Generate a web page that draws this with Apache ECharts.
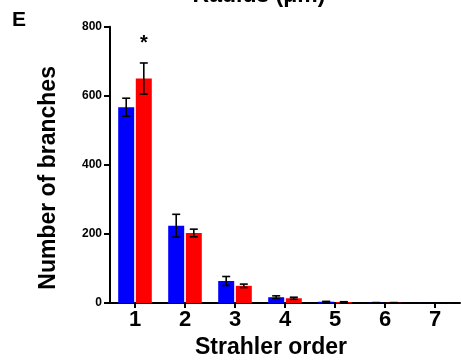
<!DOCTYPE html>
<html>
<head>
<meta charset="utf-8">
<script src="https://cdn.jsdelivr.net/npm/echarts@6/dist/echarts.min.js"></script>
<style>
html,body{margin:0;padding:0;background:#fff;}
#chart{width:461px;height:364px;}
</style>
</head>
<body>
<div id="chart"></div>
<script>
var categories = ['1', '2', '3', '4', '5', '6', '7'];
var blueMean = [567, 224, 64, 17, 4, 1, 0.5];
var blueErr  = [26, 33, 13, 4, 1, 0.5, 0.3];
var redMean  = [650, 203, 50, 14, 3, 1, 0.3];
var redErr   = [45, 11, 5, 3, 1, 0.5, 0];
var yTicks = [0, 200, 400, 600, 800];
var sigCategory = '1';
var sigValue = 752;

var FONT = '"Liberation Sans", Arial, Helvetica, sans-serif';
var BAR_W = 16;
var BAR_GAP = 0.1;

function errorSeries(means, errs, sideSign) {
  var data = means.map(function (m, i) { return [i, m - errs[i], m + errs[i]]; });
  return {
    type: 'custom',
    silent: true,
    z: 5,
    data: data,
    renderItem: function (params, api) {
      var idx = api.value(0);
      var lo = api.coord([idx, api.value(1)]);
      var hi = api.coord([idx, api.value(2)]);
      var off = sideSign * (BAR_W * (1 + BAR_GAP)) / 2;
      var x = lo[0] + off;
      var cap = 4;
      var st = { stroke: '#000', lineWidth: 1.6 };
      return {
        type: 'group',
        children: [
          { type: 'line', shape: { x1: x, y1: lo[1], x2: x, y2: hi[1] }, style: st },
          { type: 'line', shape: { x1: x - cap, y1: hi[1], x2: x + cap, y2: hi[1] }, style: st },
          { type: 'line', shape: { x1: x - cap, y1: lo[1], x2: x + cap, y2: lo[1] }, style: st }
        ]
      };
    },
    encode: { x: 0, y: [1, 2] }
  };
}

var chart = echarts.init(document.getElementById('chart'), null, { renderer: 'canvas' });
chart.setOption({
  animation: false,
  backgroundColor: '#fff',
  grid: { left: 110, right: 1, top: 26.7, bottom: 57.3, containLabel: false },
  graphic: [
    { type: 'text', left: 12, top: 10, style: { text: 'E', font: 'bold 21px ' + FONT, fill: '#000' } },
    { type: 'text', x: 259, y: -4, style: { text: 'Radius (μm)', font: 'bold 23px ' + FONT, fill: '#000', align: 'center', verticalAlign: 'middle' } }
  ],
  xAxis: {
    type: 'category',
    data: categories,
    name: 'Strahler order',
    nameLocation: 'middle',
    nameGap: 32,
    nameTextStyle: { fontFamily: FONT, fontWeight: 'bold', fontSize: 23, color: '#000', padding: [0, 28, 0, 0] },
    axisLine: { lineStyle: { color: '#000', width: 2 } },
    axisTick: { show: true, alignWithLabel: true, length: 5, lineStyle: { color: '#000', width: 2 } },
    axisLabel: { fontFamily: FONT, fontWeight: 'bold', fontSize: 22, color: '#000', margin: 6 },
    splitLine: { show: false }
  },
  yAxis: {
    type: 'value',
    min: 0, max: 800, interval: 200,
    name: 'Number of branches',
    nameLocation: 'middle',
    nameGap: 50,
    nameTextStyle: { fontFamily: FONT, fontWeight: 'bold', fontSize: 23, color: '#000', padding: [0, 26, 0, 0] },
    axisLine: { show: true, lineStyle: { color: '#000', width: 2 } },
    axisTick: { show: true, length: 6, lineStyle: { color: '#000', width: 2 } },
    axisLabel: {
      fontFamily: FONT, fontWeight: 'bold', fontSize: 12, color: '#000', margin: 8,
      formatter: function (v) { return yTicks.indexOf(v) >= 0 ? String(v) : ''; }
    },
    splitLine: { show: false }
  },
  series: [
    {
      name: 'Blue', type: 'bar', data: blueMean, barWidth: BAR_W, barGap: (BAR_GAP * 100) + '%',
      itemStyle: { color: '#0000ff' }
    },
    {
      name: 'Red', type: 'bar', data: redMean, barWidth: BAR_W, barGap: (BAR_GAP * 100) + '%',
      itemStyle: { color: '#ff0000' }
    },
    errorSeries(blueMean, blueErr, -1),
    errorSeries(redMean, redErr, 1),
    {
      type: 'custom', silent: true, z: 6,
      data: [[categories.indexOf(sigCategory), sigValue]],
      renderItem: function (params, api) {
        var p = api.coord([api.value(0), api.value(1)]);
        var off = (BAR_W * (1 + BAR_GAP)) / 2;
        return { type: 'text', x: p[0] + off, y: p[1], style: { text: '*', font: 'bold 20px ' + FONT, fill: '#000', align: 'center', verticalAlign: 'middle' } };
      },
      encode: { x: 0, y: 1 }
    }
  ]
});
</script>
</body>
</html>
